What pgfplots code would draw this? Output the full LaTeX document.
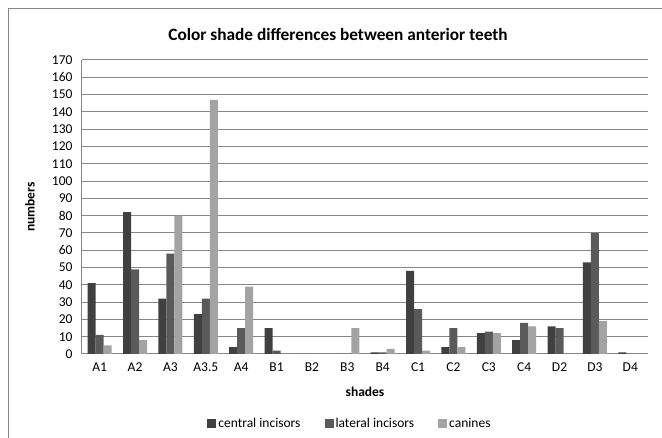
\documentclass[border=0pt]{standalone}
\usepackage{fontspec}
\setmainfont{Carlito}
\usepackage{pgfplots}
\usepackage{pgfplotstable}
\pgfplotsset{compat=1.18}
\definecolor{cen}{HTML}{404040}
\definecolor{lat}{HTML}{5A5A5A}
\definecolor{can}{HTML}{A3A3A3}
\definecolor{gridc}{HTML}{868686}
\pgfplotstableread{
x central lateral canines
0 41 11 5
1 82 49 8
2 32 58 80
3 23 32 147
4 4 15 39
5 15 2 0
6 0 0 0
7 0 0 15
8 1 1 3
9 48 26 2
10 4 15 4
11 12 13 12
12 8 18 16
13 16 15 0
14 53 70 19
15 1 0 0
}\datatable
\begin{document}
\begin{tikzpicture}
\useasboundingbox (0pt,0pt) rectangle (662pt,438pt);
\draw[gridc, line width=1pt] (8pt,-2pt) -- (8pt,429pt) -- (664pt,429pt);
\node[font=\fontsize{17.3}{20}\selectfont\bfseries] at (338pt,404pt) {Color shade differences between anterior teeth};
\begin{axis}[
  at={(82pt,84pt)}, anchor=south west,
  scale only axis, width=566pt, height=294pt,
  ybar=0pt, bar width=8pt,
  xmin=-0.5, xmax=15.5,
  ymin=0, ymax=170,
  ytick distance=10,
  xtick={0,...,15},
  xticklabels={A1,A2,A3,A3.5,A4,B1,B2,B3,B4,C1,C2,C3,C4,D2,D3,D4},
  major tick length=0pt,
  axis x line*=bottom, axis y line*=left,
  axis line style={gridc, line width=1pt, -},
  ymajorgrids, grid style={gridc, line width=1pt},
  tick label style={font=\fontsize{13.5}{15}\selectfont},
  /pgf/number format/assume math mode=true,
  yticklabel style={xshift=-6pt},
  xticklabel style={yshift=-5pt},
  every axis y label/.style={at={(axis description cs:-0.092,0.5)}, rotate=90, anchor=center, font=\fontsize{13.5}{15}\selectfont\bfseries},
  every axis x label/.style={at={(axis description cs:0.5,-0.129)}, anchor=center, font=\fontsize{13.5}{15}\selectfont\bfseries},
  ylabel={numbers}, xlabel={shades},
  legend style={at={(axis description cs:0.4735,-0.238)}, anchor=center, draw=none, legend columns=3,
    font=\fontsize{13.5}{15}\selectfont, /tikz/every even column/.append style={column sep=22pt}},
  legend image code/.code={\fill[#1] (0pt,-4.5pt) rectangle (9pt,4.5pt);},
]
\addplot[fill=cen, draw=none] table[x=x, y=central] {\datatable};
\addplot[fill=lat, draw=none] table[x=x, y=lateral] {\datatable};
\addplot[fill=can, draw=none] table[x=x, y=canines] {\datatable};
\legend{central incisors, lateral incisors, canines}
\end{axis}
\end{tikzpicture}
\end{document}
